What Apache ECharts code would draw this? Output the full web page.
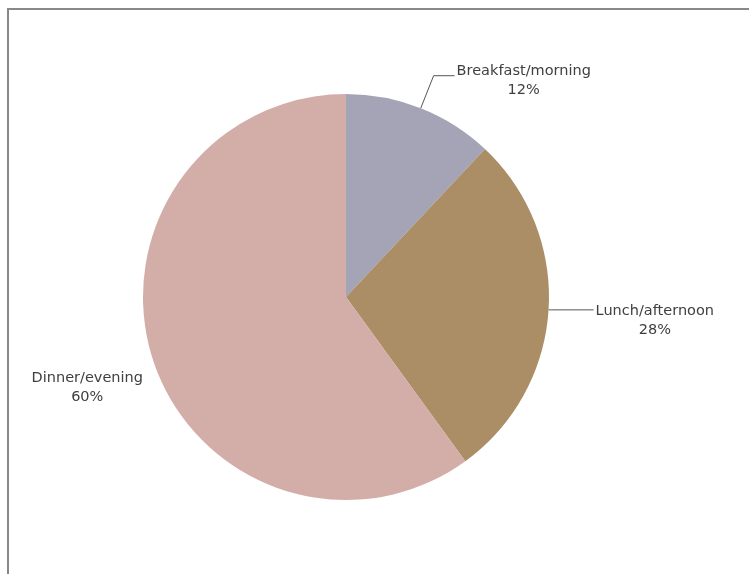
<!DOCTYPE html>
<html>
<head>
<meta charset="utf-8">
<script src="https://cdn.jsdelivr.net/npm/echarts@6/dist/echarts.min.js"></script>
<style>
  html, body { margin: 0; padding: 0; background: #fff; }
  #chart { width: 749px; height: 574px; }
</style>
</head>
<body>
<div id="chart"></div>
<script>
// Share of meals by time of day
const categories = ['Breakfast/morning', 'Lunch/afternoon', 'Dinner/evening'];
const shares = [12, 28, 60];
const sliceColors = ['#a4a4b6', '#ab8e66', '#d3aea8'];

// Leader line settings per slice: [length, length2, show]
const leaderLines = [[35, 21, true], [2, 43, true], [0, 8, false]];
// Vertical nudge of each label relative to its leader line end
const labelNudge = [5, 11, 28];

const chart = echarts.init(document.getElementById('chart'), null, { renderer: 'canvas' });

const data = categories.map((name, i) => ({
  name: name,
  value: shares[i],
  itemStyle: { color: sliceColors[i] },
  labelLine: { show: leaderLines[i][2], length: leaderLines[i][0], length2: leaderLines[i][1] }
}));

chart.setOption({
  animation: false,
  backgroundColor: '#fff',
  graphic: [{
    type: 'rect',
    shape: { x: 8, y: 9, width: 900, height: 800 },
    style: { fill: 'none', stroke: '#888888', lineWidth: 2 },
    silent: true
  }],
  series: [{
    type: 'pie',
    center: [346, 297],
    radius: 203,
    startAngle: 90,
    clockwise: true,
    avoidLabelOverlap: false,
    data: data,
    label: {
      show: true,
      position: 'outside',
      distanceToLabelLine: 2,
      formatter: '{t|{b}}\n{t|{c}%}',
      rich: {
        t: { align: 'center', fontFamily: 'DejaVu Sans', fontSize: 14.5, color: '#404040', lineHeight: 19 }
      }
    },
    labelLine: {
      lineStyle: { color: '#555555', width: 1 },
      smooth: false
    },
    labelLayout: function (params) {
      return { dy: labelNudge[params.dataIndex] };
    },
    emphasis: { disabled: true }
  }]
});
</script>
</body>
</html>
